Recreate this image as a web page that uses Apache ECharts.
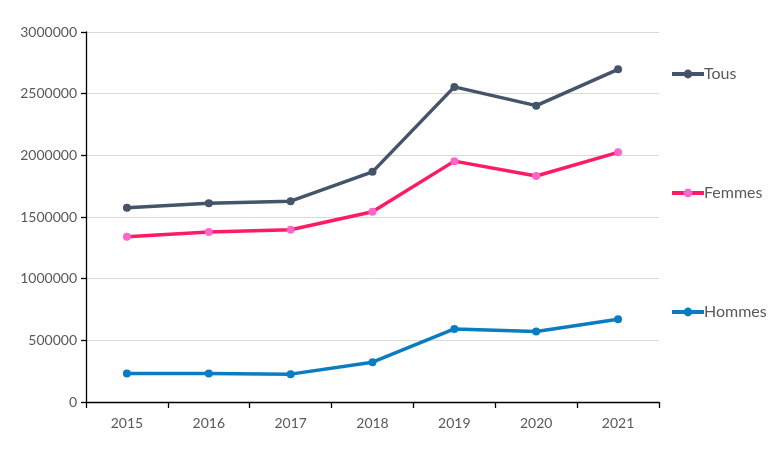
<!DOCTYPE html>
<html><head><meta charset="utf-8">
<script src="https://cdn.jsdelivr.net/npm/echarts@6/dist/echarts.min.js"></script>
<style>html,body{margin:0;padding:0;background:#fff}#c{width:774px;height:451px}</style>
</head><body><div id="c"></div>
<script>
const years = ['2015','2016','2017','2018','2019','2020','2021'];
const tous = [1575000, 1612000, 1628000, 1866000, 2555000, 2403000, 2697000];
const femmes = [1340000, 1378000, 1396000, 1543000, 1953000, 1832000, 2024000];
const hommes = [232000, 231000, 226000, 323000, 592000, 571000, 671000];
const yTicks = [0, 500000, 1000000, 1500000, 2000000, 2500000, 3000000];

const chart = echarts.init(document.getElementById('c'));
const font = 'Lato, "Open Sans", sans-serif';
function legend(name, top){
  return {data:[name], left:665, top:top, itemWidth:32, itemHeight:11, itemGap:0,
    itemStyle:{borderWidth:0}, lineStyle:{width:4},
    textStyle:{color:'#595959', fontSize:16, fontFamily:font, padding:[0,0,0,-5]}};
}
chart.setOption({
  animation:false,
  grid:{left:86, right:115, top:32, bottom:49},
  legend:[legend('Tous',61), legend('Femmes',180), legend('Hommes',299)],
  xAxis:{type:'category', data:years, boundaryGap:true,
    axisLine:{lineStyle:{color:'#000', width:1.3}},
    axisTick:{show:true, length:6, lineStyle:{color:'#000', width:1.3}},
    axisLabel:{color:'#595959', fontSize:14, fontFamily:font, margin:14}},
  yAxis:{type:'value', min:0, max:3000000, interval:500000,
    axisLine:{show:true, lineStyle:{color:'#000', width:1.3}},
    axisTick:{show:true, length:5, lineStyle:{color:'#000', width:1.3}},
    splitLine:{lineStyle:{color:'#d9d9d9', width:1}},
    axisLabel:{color:'#595959', fontSize:14, fontFamily:font, margin:9,
      formatter:v=>yTicks.includes(v)?String(v):''}},
  series:[
    {name:'Tous', type:'line', data:tous, symbol:'circle', symbolSize:8,
     lineStyle:{color:'#44546A', width:3.5}, itemStyle:{color:'#44546A'}},
    {name:'Femmes', type:'line', data:femmes, symbol:'circle', symbolSize:8,
     lineStyle:{color:'#FF1A66', width:3.5}, itemStyle:{color:'#FF66CC'}},
    {name:'Hommes', type:'line', data:hommes, symbol:'circle', symbolSize:8,
     lineStyle:{color:'#0A7CC1', width:3.5}, itemStyle:{color:'#0A7CC1'}}
  ]
});
</script></body></html>
